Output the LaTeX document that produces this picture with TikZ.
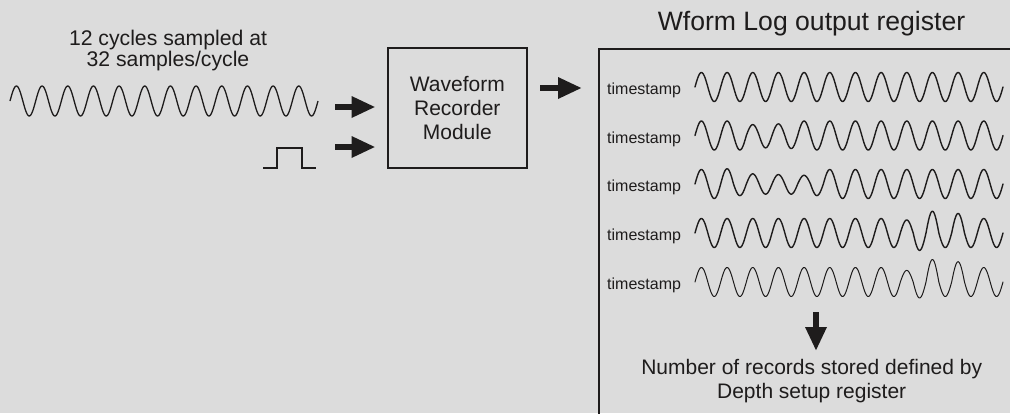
\documentclass[tikz,border=0pt]{standalone}
\usepackage{fontspec}
\setmainfont{Liberation Sans}
\usetikzlibrary{arrows.meta}
\definecolor{bg}{RGB}{220,220,220}
\definecolor{ink}{RGB}{30,28,28}
% #1 x0, #2 y centre, #3 amplitude, #4 list of 24 half-cycle factors, #5 style
\newcommand{\wform}[5]{%
  \draw[#5] (#1,#2) \foreach \a [count=\i from 0] in {#4} { -- plot[domain=0:180,samples=19] ({#1+(\i*180+\x)/360*25.667},{#2+\a*#3*sin(\x+\i*180)}) };%
}
\begin{document}
\begin{tikzpicture}[x=1pt,y=1pt,
  bigarrow/.style={line width=6.5pt, draw=ink, -{Triangle[length=24pt,width=20pt]}},
  txt/.style={font=\fontsize{21}{24}\selectfont, text=ink, inner sep=0pt, align=center},
  ts/.style={font=\fontsize{16}{16}\selectfont, text=ink, inner sep=0pt},
  wave/.style={draw=ink, line width=1.4pt, line join=round, line cap=round},
  thinwave/.style={draw=ink, line width=1pt, line join=round, line cap=round},
  frame/.style={draw=ink, line width=2pt, inner sep=0pt, outer sep=0pt}]
\fill[bg] (0,0) rectangle (1010,-413);
\clip (0,0) rectangle (1010,-413);

% input description
\node[txt, font=\fontsize{21.2}{21}\selectfont] (desc) at (168,-51) {12 cycles sampled at\\32 samples/cycle};

% input sine
\wform{10}{-101}{15}{1,1,1,1,1,1,1,1,1,1,1,1,1,1,1,1,1,1,1,1,1,1,1,1}{draw=ink, line width=1.3pt, line join=round}

% pulse
\draw[draw=ink, line width=1.2pt] (263,-168) -- (277,-168) -- (277,-148) -- (302,-148) -- (302,-168) -- (316,-168);

% recorder box
\node[frame, minimum width=139.5pt, minimum height=119.5pt, txt, line width=2pt] (wrm) at (457.3,-108) {Waveform\\Recorder\\Module};

% register box
\node[frame, line width=2.6pt, anchor=north west, minimum width=440pt, minimum height=400pt] (reg) at (599,-49) {};
\node[font=\fontsize{26.6}{26}\selectfont, text=ink, inner sep=0pt, anchor=base] (title) at (811.5,-30) {Wform Log output register};

% input arrows
\coordinate (s1) at (335,-107);
\coordinate (s2) at (335,-147);
\draw[bigarrow, shorten >=12pt] (s1) -- (s1 -| wrm.west);
\draw[bigarrow, shorten >=12pt] (s2) -- (s2 -| wrm.west);

% output arrow
\coordinate (o1) at (540,-88);
\draw[bigarrow, shorten >=17pt] (o1) -- (o1 -| reg.west);

% records
\node[ts, anchor=base west] (t1) at (607,-94.5) {timestamp};
\node[ts, anchor=base west] (t2) at (607,-143) {timestamp};
\node[ts, anchor=base west] (t3) at (607,-191.5) {timestamp};
\node[ts, anchor=base west] (t4) at (607,-240.5) {timestamp};
\node[ts, anchor=base west] (t5) at (607,-289) {timestamp};

\wform{695}{-87}{14.5}{1,1,1,1,1,1,1,1,1,1,1,1,1,1,1,1,1,1,1,1,1,1,1,1}{wave}
\wform{695}{-135.5}{14.5}{1,1,1,1,.75,.85,.8,.9,1,1,1,1,1,1,1,1,1,1,1,1,1,1,1,1}{wave}
\wform{695}{-184}{14.5}{1,1,1.05,.8,.7,.7,.65,.7,.6,.8,1,1,1,1,1,1,1,1,1,1,1,1,1,1}{wave}
\wform{695}{-233}{14.5}{1,1,1,1,1,1,1,1,1,1,1,1,1,1,1,1,.9,1.2,1.5,1,1.35,1,1,1}{wave}
\wform{695}{-282}{14.5}{1,1,1,1,1,1,1,1,1,1,1,1,1,1,1,1,.8,1.1,1.55,1,1.4,1,1,1}{thinwave}

% note and down arrow
\node[txt] (note) at (811.7,-381) {Number of records stored defined by\\Depth setup register};
\coordinate (d1) at (816,-312);
\draw[bigarrow, shorten >=8pt] (d1) -- (d1 |- note.north);
\end{tikzpicture}
\end{document}
